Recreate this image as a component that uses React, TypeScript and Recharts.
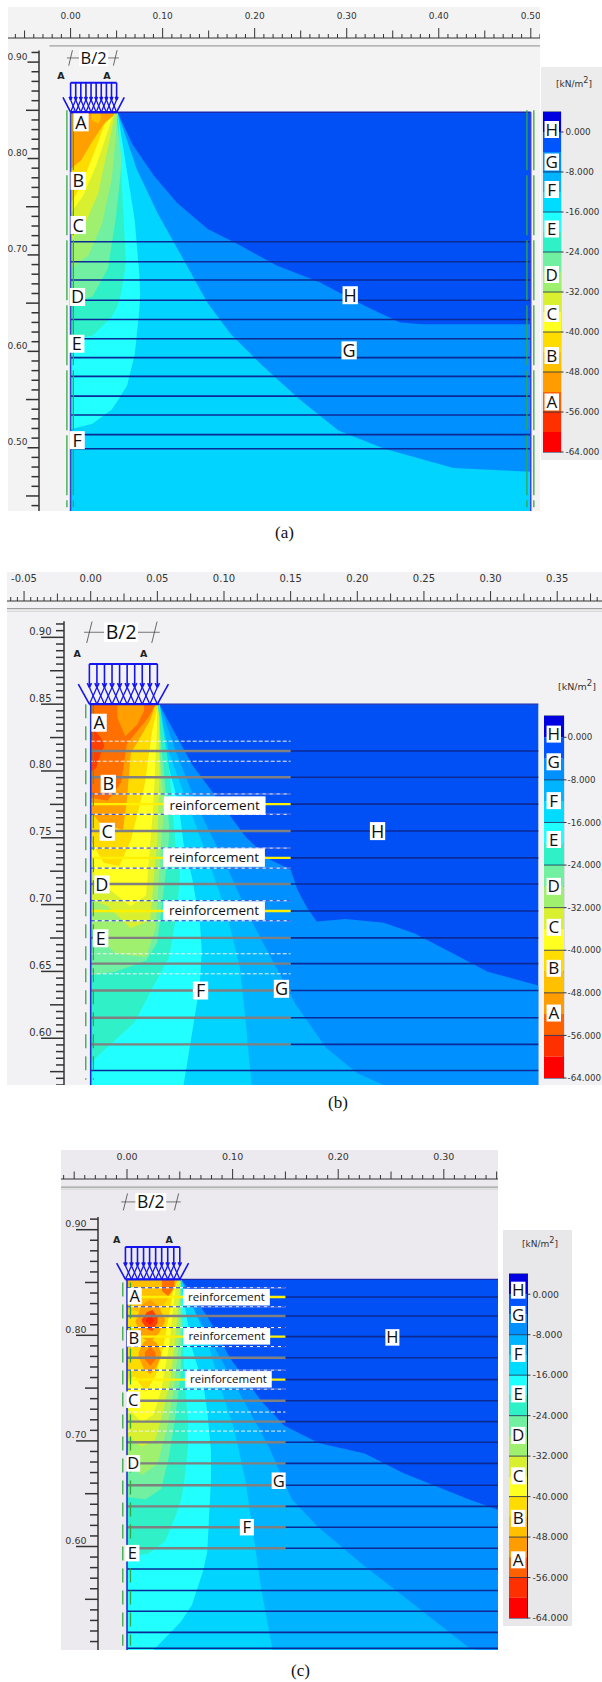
import { Area, Bar, BarChart, ComposedChart, ReferenceArea, ReferenceDot, ReferenceLine, XAxis, YAxis } from 'recharts';

// colour steps of the stress scale, top (0..4) to bottom (-60..-64)
const scaleColors = ['#0000E0', '#0055FF', '#0090FF', '#00B4FF', '#00DCFF', '#20FFFF', '#30F0C8', '#70F0A0', '#A0F070', '#D8F030', '#FFFF20', '#FFDC00', '#FFC000', '#FF9C00', '#FF6000', '#FF3000', '#FF0000'];
const scaleSteps = [4, -4, -4, -4, -4, -4, -4, -4, -4, -4, -4, -4, -4, -4, -4, -4, -4];
const scaleTicks = [0, -8, -16, -24, -32, -40, -48, -56, -64];
const letters = ['H', 'G', 'F', 'E', 'D', 'C', 'B', 'A'];
const scaleLettersA = [0.5, -6, -11.5, -19.4, -28.5, -36.3, -44.7, -54];
const scaleLettersB = [0.6, -4.6, -11.9, -19.2, -28, -35.7, -43.4, -51.8];
const scaleLettersC = [0.8, -4, -11.7, -19.7, -27.9, -35.9, -44.3, -52.5];

const HB = '#0050F5';
const G = '#0090FF';
const F1 = '#00B4FF';
const F2 = '#00D4FF';
const E1 = '#22FFFF';
const E2 = '#30F0C8';
const D1 = '#70F0A0';
const D2 = '#A0F070';
const C1 = '#D8F030';
const C2 = '#FFFF20';
const B1 = '#FFDC00';
const O1 = '#FFC000';
const O2 = '#FFA000';
const O3 = '#FF7000';
const R1 = '#FF4000';
const R2 = '#FF2000';

// panel (a): rows are x, lower y, upper y of each stress band
const aT = 0.848;
const aB = 0.4344;
const aBandH = [[0, aB, aT], [0.5, aB, aT]];
const aBandG = [[0, aB, aT], [0.051, aB, aT], [0.0676, aB, 0.814], [0.0906, aB, 0.782], [0.1156, aB, 0.754], [0.149, aB, 0.727], [0.182, aB, 0.711], [0.224, aB, 0.689], [0.27, aB, 0.672], [0.32, aB, 0.647], [0.358, aB, 0.63], [0.383, aB, 0.628], [0.5, aB, 0.628]];
const aBandF = [[0, aB, aT], [0.051, aB, aT], [0.0718, aB, 0.789], [0.0947, aB, 0.743], [0.124, aB, 0.693], [0.149, aB, 0.65], [0.174, aB, 0.618], [0.2074, aB, 0.586], [0.249, aB, 0.55], [0.291, aB, 0.518], [0.341, aB, 0.499], [0.416, aB, 0.479], [0.5, aB, 0.475]];
const aBandE1 = [[0, 0.5193, aT], [0.0238, 0.525, aT], [0.0447, 0.5396, aT], [0.051, 0.5485, aT], [0.0614, 0.5646, 0.786], [0.0697, 0.5967, 0.736], [0.0747, 0.643, 0.679], [0.0756, 0.66, 0.66]];
const aBandE2 = [[0, 0.6128, aT], [0.0238, 0.6163, aT], [0.0447, 0.636, aT], [0.051, 0.6467, aT], [0.0551, 0.661, 0.786], [0.0593, 0.686, 0.707], [0.06, 0.696, 0.697]];
const aBandD1 = [[0, 0.65, aT], [0.0238, 0.657, aT], [0.0405, 0.686, aT], [0.0488, 0.736, aT], [0.0538, 0.779, 0.814], [0.055, 0.795, 0.8]];
const aBandD2 = [[0, 0.686, aT], [0.0196, 0.7, aT], [0.0342, 0.732, aT], [0.0447, 0.779, aT], [0.0488, 0.82, aT], [0.051, 0.848, aT]];
const aBandC1 = [[0, 0.7145, aT], [0.0175, 0.736, aT], [0.03, 0.764, aT], [0.0426, 0.821, aT], [0.048, 0.846, aT]];
const aBandC2 = [[0, 0.743, aT], [0.0134, 0.761, aT], [0.028, 0.793, aT], [0.0405, 0.8286, aT], [0.047, 0.848, aT]];
const aBandB1 = [[0, 0.7537, aT], [0.0113, 0.7716, aT], [0.0259, 0.807, aT], [0.0384, 0.839, aT], [0.0455, 0.848, aT]];
const aBandO2 = [[0, 0.789, aT], [0.0113, 0.798, aT], [0.0238, 0.818, aT], [0.0363, 0.836, aT], [0.0468, 0.8447, aT], [0.0472, 0.848, aT]];
const aBandO1 = [[0.0225, 0.84, aT], [0.03, 0.836, aT], [0.0325, 0.84, aT]];
const aLevels = [0.7137, 0.693, 0.674, 0.653, 0.633, 0.613, 0.5935, 0.574, 0.5535, 0.534, 0.5136, 0.499];

// panel (b)
const bT = 0.85;
const bB = 0.565;
const bBandH = [[0, bB, bT], [0.3358, bB, bT]];
const bBandG = [[0, bB, bT], [0.0516, bB, 0.8497], [0.076, bB, 0.8049], [0.0962, bB, 0.7777], [0.1164, bB, 0.7505], [0.1336, bB, 0.7341], [0.15, bB, 0.726], [0.1552, bB, 0.711], [0.1624, bB, 0.6974], [0.1696, bB, 0.6874], [0.1912, bB, 0.6893], [0.22, bB, 0.6865], [0.2431, bB, 0.6784], [0.2719, bB, 0.6634], [0.2978, bB, 0.6498], [0.3358, bB, 0.6395]];
const bBandF1 = [[0, bB, bT], [0.0516, bB, bT], [0.0645, bB, 0.813], [0.0818, bB, 0.7695], [0.102, bB, 0.7287], [0.1192, bB, 0.6906], [0.1365, bB, 0.658], [0.1538, bB, 0.6253], [0.1768, bB, 0.5927], [0.2, bB, 0.5737], [0.22, bB, 0.565]];
const bBandF2 = [[0, bB, bT], [0.0516, bB, bT], [0.0588, bB, 0.813], [0.0732, bB, 0.7749], [0.089, bB, 0.7314], [0.102, bB, 0.6933], [0.112, bB, 0.6526], [0.1164, bB, 0.6118], [0.1207, bB, 0.565]];
const bBandE1 = [[0, bB, bT], [0.0516, bB, bT], [0.0559, bB, 0.813], [0.066, bB, 0.7749], [0.0697, bB, 0.7453], [0.076, 0.6036, 0.7205], [0.0818, 0.639, 0.6879], [0.0832, 0.663, 0.668]];
const bBandE2 = [[0, 0.5818, bT], [0.0328, 0.6118, bT], [0.0472, 0.639, bT], [0.0516, 0.6471, bT], [0.0588, 0.6607, 0.8021], [0.0645, 0.6933, 0.7341], [0.0668, 0.718, 0.728]];
const bBandD1 = [[0, 0.6471, bT], [0.0184, 0.6498, bT], [0.0415, 0.658, bT], [0.05, 0.6716, bT], [0.0559, 0.7205, 0.7885], [0.0588, 0.75, 0.76]];
const bBandD2 = [[0, 0.6825, bT], [0.0184, 0.6634, bT], [0.0415, 0.6607, bT], [0.0487, 0.6825, bT], [0.053, 0.7477, 0.7967], [0.055, 0.77, 0.775]];
const bBandC1 = [[0, 0.7042, bT], [0.0127, 0.6988, bT], [0.03, 0.6825, bT], [0.0444, 0.6879, bT], [0.05, 0.7477, bT], [0.0516, 0.8, 0.84]];
const bBandC2 = [[0, 0.726, bT], [0.0127, 0.7124, bT], [0.03, 0.6988, bT], [0.0415, 0.7069, bT], [0.047, 0.775, bT], [0.0497, 0.83, bT]];
const bBandB1 = [[0, 0.7477, bT], [0.0098, 0.7314, bT], [0.0213, 0.7287, bT], [0.03, 0.7477, bT], [0.0403, 0.7885, bT], [0.046, 0.8293, bT], [0.0501, 0.848, bT]];
const bBandO2 = [[0, 0.7695, bT], [0.0069, 0.7613, bT], [0.0242, 0.7559, bT], [0.0271, 0.7777, bT], [0.03, 0.813, bT], [0.0444, 0.8375, bT], [0.0487, 0.85, bT]];
const bBandO3 = [[0, 0.78, bT], [0.0127, 0.7777, bT], [0.0228, 0.7913, bT], [0.0271, 0.82, bT], [0.0432, 0.84, bT], [0.0487, 0.85, bT]];
const bBandPatch = [[0.02, 0.84, bT], [0.0259, 0.826, bT], [0.035, 0.835, bT], [0.04, 0.845, bT]];
const bBandR1 = [[0, 0.7994, 0.8348], [0.004, 0.8021, 0.8293], [0.0075, 0.813, 0.825], [0.01, 0.818, 0.82]];
const bLevelsFull = [0.5759];
const bLevelsGrey = [0.8149, 0.7953, 0.7551, 0.7154, 0.6751, 0.6558, 0.6357, 0.6153, 0.5954];
const bLevelsYellow = [0.7752, 0.735, 0.6952];
const bDashBlue = [0.7828, 0.7676, 0.7423, 0.7273, 0.7029, 0.6879];
const bDashPale = [0.8223, 0.8073, 0.6632, 0.6482];

// panel (c)
const cT = 0.853;
const cB = 0.502;
const cBandH = [[0, cB, cT], [0.3513, cB, cT]];
const cBandG = [[0, cB, cT], [0.0513, cB, cT], [0.076, cB, 0.818], [0.0978, cB, 0.778], [0.1269, cB, 0.738], [0.1487, cB, 0.7147], [0.1815, cB, 0.698], [0.2251, cB, 0.688], [0.2615, cB, 0.6697], [0.2905, cB, 0.658], [0.3233, cB, 0.6447], [0.3513, cB, 0.6347]];
const cBandF1 = [[0, cB, cT], [0.0513, cB, cT], [0.0615, cB, 0.828], [0.0978, cB, 0.7613], [0.1342, cB, 0.6947], [0.156, cB, 0.6447], [0.1815, cB, 0.618], [0.2251, cB, 0.5813], [0.2724, cB, 0.5447], [0.3233, cB, 0.5047], [0.3305, cB, 0.502]];
const cBandF2 = [[0, cB, cT], [0.0513, cB, cT], [0.076, cB, 0.7947], [0.0905, cB, 0.7447], [0.1015, cB, 0.7113], [0.1124, cB, 0.6613], [0.1269, cB, 0.5613], [0.1378, cB, 0.502]];
const cBandE1 = [[0, cB, cT], [0.0251, cB, cT], [0.0505, 0.528, cT], [0.0615, 0.5447, 0.788], [0.0724, 0.578, 0.752], [0.076, 0.595, 0.728], [0.0796, 0.665, 0.69]];
const cBandE2 = [[0, 0.5913, cT], [0.0196, 0.593, cT], [0.036, 0.6047, cT], [0.0469, 0.6313, cT], [0.0513, 0.6447, cT], [0.0542, 0.6613, 0.7613], [0.0578, 0.6947, 0.72]];
const cBandD1 = [[0, 0.6467, cT], [0.0178, 0.6447, cT], [0.0324, 0.6547, cT], [0.0396, 0.6847, cT], [0.0451, 0.718, cT], [0.0505, 0.7613, cT], [0.0524, 0.808, 0.82]];
const cBandD2 = [[0, 0.678, cT], [0.0142, 0.668, cT], [0.0287, 0.678, cT], [0.0378, 0.7113, cT], [0.0451, 0.7547, cT], [0.0505, 0.808, cT]];
const cBandC1 = [[0, 0.7047, cT], [0.0142, 0.6947, cT], [0.0269, 0.7013, cT], [0.0342, 0.728, cT], [0.0415, 0.7613, cT], [0.0469, 0.808, cT], [0.0505, 0.85, cT]];
const cBandC2 = [[0, 0.7313, cT], [0.0142, 0.718, cT], [0.0251, 0.7247, cT], [0.0324, 0.748, cT], [0.0396, 0.788, cT], [0.0451, 0.838, cT], [0.0476, 0.853, cT]];
const cBandB1 = [[0, 0.755, cT], [0.0069, 0.7613, cT], [0.0178, 0.7463, cT], [0.0269, 0.7613, cT], [0.0342, 0.788, cT], [0.0415, 0.828, cT], [0.0451, 0.853, cT]];
const cBandTop = [[0, 0.825, cT], [0.02, 0.82, cT], [0.032, 0.825, cT], [0.0455, 0.845, cT], [0.048, 0.853, cT]];
const cBlobMid = [[0.008, 0.813, 0.813], [0.014, 0.798, 0.829], [0.022, 0.793, 0.834], [0.03, 0.802, 0.827], [0.036, 0.813, 0.815]];
const cBlobLow = [[0.011, 0.78, 0.784], [0.016, 0.768, 0.794], [0.022, 0.763, 0.797], [0.028, 0.77, 0.793], [0.032, 0.78, 0.784]];
const cRedMid = [[0.014, 0.813, 0.815], [0.019, 0.806, 0.822], [0.024, 0.804, 0.824], [0.029, 0.812, 0.817]];
const cRedCore = [[0.018, 0.813, 0.815], [0.022, 0.81, 0.819], [0.025, 0.813, 0.815]];
const cLowDeep = [[0.017, 0.777, 0.784], [0.022, 0.771, 0.789], [0.027, 0.777, 0.784]];
const cTopDeep = [[0.033, 0.842, cT], [0.039, 0.837, cT], [0.045, 0.846, cT]];
const cLevelsFull = [0.5787, 0.5583, 0.5387, 0.5187, 0.5037];
const cLevelsGrey = [0.8183, 0.7787, 0.738, 0.7183, 0.6987, 0.6787, 0.658, 0.638, 0.6183, 0.5983];
const cLevelsYellow = [0.8363, 0.7987, 0.758];
const cDashBlue = [0.845, 0.827, 0.8073, 0.7893, 0.767, 0.749];
const cDashPale = [0.7273, 0.7093];

// letters and notes placed on the plots: [x, y, text]
const aTags: [number, number, string][] = [[0.0113, 0.8375, 'A'], [0.0083, 0.7768, 'B'], [0.0083, 0.731, 'C'], [0.0075, 0.6564, 'D'], [0.0067, 0.6079, 'E'], [0.0071, 0.5079, 'F'], [0.3038, 0.6582, 'H'], [0.3026, 0.601, 'G'], [0.025, 0.9043, 'B/2']];
const bTags: [number, number, string][] = [[0.0063, 0.8361, 'A'], [0.0132, 0.7904, 'B'], [0.0124, 0.7545, 'C'], [0.0084, 0.7151, 'D'], [0.0075, 0.6748, 'E'], [0.0824, 0.6357, 'F'], [0.1431, 0.637, 'G'], [0.2152, 0.755, 'H'], [0.093, 0.7741, 'reinforcement'], [0.0925, 0.7352, 'reinforcement'], [0.0925, 0.6955, 'reinforcement'], [0.0228, 0.9038, 'B/2']];
const cTags: [number, number, string][] = [[0.0073, 0.837, 'A'], [0.0065, 0.797, 'B'], [0.0058, 0.739, 'C'], [0.0058, 0.6787, 'D'], [0.0051, 0.5937, 'E'], [0.1135, 0.6183, 'F'], [0.1436, 0.6623, 'G'], [0.2513, 0.798, 'H'], [0.0942, 0.836, 'reinforcement'], [0.0945, 0.799, 'reinforcement'], [0.096, 0.7583, 'reinforcement'], [0.0225, 0.9263, 'B/2']];

const aLayers: [string, number[][]][] = [[HB, aBandH], [G, aBandG], [F2, aBandF], [E1, aBandE1], [E2, aBandE2], [D1, aBandD1], [D2, aBandD2], [C1, aBandC1], [C2, aBandC2], [B1, aBandB1], [O2, aBandO2], [O1, aBandO1]];
const bLayers: [string, number[][]][] = [[HB, bBandH], [G, bBandG], [F1, bBandF1], [F2, bBandF2], [E1, bBandE1], [E2, bBandE2], [D1, bBandD1], [D2, bBandD2], [C1, bBandC1], [C2, bBandC2], [B1, bBandB1], [O2, bBandO2], [O3, bBandO3], [O2, bBandPatch], [R1, bBandR1]];
const cLayers: [string, number[][]][] = [[HB, cBandH], [G, cBandG], [F1, cBandF1], [F2, cBandF2], [E1, cBandE1], [E2, cBandE2], [D1, cBandD1], [D2, cBandD2], [C1, cBandC1], [C2, cBandC2], [B1, cBandB1], [O1, cBandTop], [O2, cBlobMid], [O2, cBlobLow], [O3, cLowDeep], [O3, cTopDeep], [R1, cRedMid], [R2, cRedCore]];

const tickList = (from: number, to: number, step: number) => {
  const out: number[] = [];
  for (let i = Math.ceil(from / step - 1e-6); i * step <= to + 1e-6; i++) out.push(Math.round(i * step * 10000) / 10000);
  return out;
};
const isStep = (v: number, step: number) => Math.abs(v / step - Math.round(v / step)) < 1e-4;

const seg = (key: string, x1: number, y1: number, x2: number, y2: number, stroke: string, strokeWidth = 1, dash?: string) => (
  <ReferenceLine key={key} ifOverflow="visible" segment={[{ x: x1, y: y1 }, { x: x2, y: y2 }]} stroke={stroke} strokeWidth={strokeWidth} strokeDasharray={dash} />
);

const LOAD = '#1414F0';
// distributed load symbol above the footing
const loadSymbol = (x0: number, x1: number, top: number, bottom: number) => {
  const out = [];
  const n = 10;
  const dx = (x1 - x0) / (n - 1);
  const h = top - bottom;
  const tip = bottom + h * 0.42;
  out.push(seg('lt', x0, top, x1, top, LOAD, 2));
  out.push(seg('lb', x0, bottom, x1 + 0.001, bottom, LOAD, 2.4));
  out.push(seg('dl', x0 - 0.0083, bottom + h * 0.5, x0, bottom, LOAD, 1.6));
  out.push(seg('dr', x1 + 0.0083, bottom + h * 0.5, x1, bottom, LOAD, 1.6));
  for (let i = 0; i < n; i++) {
    const x = x0 + i * dx;
    out.push(seg(`v${i}`, x, top, x, tip, LOAD, 1.6));
    out.push(seg(`hl${i}`, x - dx * 0.28, tip + h * 0.1, x, tip, LOAD, 1.6));
    out.push(seg(`hr${i}`, x + dx * 0.28, tip + h * 0.1, x, tip, LOAD, 1.6));
    if (i > 0) out.push(seg(`xl${i}`, x, tip, x - dx, bottom, LOAD, 1.3));
    if (i < n - 1) out.push(seg(`xr${i}`, x, tip, x + dx, bottom, LOAD, 1.3));
  }
  return out;
};

const Tag = ({ cx, cy, text, fontSize, noteSize, dimSize }: any) => {
  const note = text === 'reinforcement';
  const dim = text === 'B/2';
  const size = note ? noteSize : dim ? dimSize : fontSize;
  const w = note ? text.length * size * 0.58 : dim ? size * 1.59 + 3 : size * 0.85;
  const h = note ? size + 5 : size;
  return (
    <g>
      <rect x={cx - w / 2} y={cy - h / 2} width={w} height={h} fill="#fff" />
      <text x={cx} y={cy + size * 0.36} textAnchor="middle" fontSize={size} fontFamily="'Open Sans', sans-serif" fill="#111">
        {text}
      </text>
    </g>
  );
};

const SmallA = ({ cx, cy }: any) => (
  <text x={cx} y={cy + 3.5} textAnchor="middle" fontSize={9.5} fontWeight="bold" fontFamily="'DejaVu Sans', sans-serif" fill="#222">
    A
  </text>
);

// the depth ruler left of the plot, a chart of its own on the panel's depth scale
function DepthRuler(p: any) {
  const xs = p.xDomain;
  const ys = p.yDomain;
  const axisPx = Math.round(((p.axisX - xs[0]) / (xs[1] - xs[0])) * p.width);
  const yTicks = tickList(ys[0], p.yAxisTop, p.yMinor);
  const yTick = ({ y, payload }: any) => {
    const v = payload.value;
    const major = isStep(v, p.yMajor);
    const mid = isStep(v, p.yMajor / 2);
    const len = major ? p.yTickLens[0] : mid ? p.yTickLens[1] : p.yTickLens[2];
    return (
      <g>
        <line x1={axisPx - len} x2={axisPx} y1={y} y2={y} stroke="#333" strokeWidth={1.5} />
        {major && (
          <text x={axisPx - p.yLabelGap} y={y - 2.5} textAnchor="end" fontSize={p.tickFont} fontFamily="'DejaVu Sans', sans-serif" fill="#333">
            {v.toFixed(2)}
          </text>
        )}
      </g>
    );
  };
  return (
    <div style={{ position: 'absolute', left: p.left, top: p.top, zIndex: 5 }}>
      <ComposedChart width={axisPx + 2} height={p.height} margin={{ top: p.rulerHeight, right: 0, bottom: 0, left: 0 }}>
        <XAxis type="number" dataKey="x" hide domain={[0, 1]} allowDataOverflow />
        <YAxis type="number" width={axisPx} domain={ys} allowDataOverflow ticks={yTicks} interval={0} tick={yTick} tickLine={false} tickSize={0} tickMargin={0} axisLine={false} />
        {seg('axis', 0, ys[0], 0, p.yAxisTop + 0.002, '#333', 1.5)}
      </ComposedChart>
    </div>
  );
}

function StressPanel(p: any) {
  const xs = p.xDomain;
  const ys = p.yDomain;
  const xTicks = tickList(xs[0], xs[1], p.xMinor);

  const xTick = ({ x, y, payload }: any) => {
    const v = payload.value;
    const major = isStep(v, p.xMajor);
    const mid = isStep(v, p.xMajor / 2);
    return (
      <g>
        <line x1={x} x2={x} y1={y} y2={y - (major ? 10 : mid ? 7.5 : 4)} stroke="#333" strokeWidth={1} />
        {major && (
          <text x={x} y={y - 19} textAnchor="middle" fontSize={p.tickFont} fontFamily="'DejaVu Sans', sans-serif" fill="#333">
            {v.toFixed(2)}
          </text>
        )}
      </g>
    );
  };

  return (
    <>
      <div style={{ position: 'absolute', left: p.left, top: p.top, background: p.background }}>
        <ComposedChart width={p.width} height={p.height} margin={{ top: 0, right: 0, bottom: 0, left: 0 }}>
          <XAxis type="number" dataKey="x" orientation="top" height={p.rulerHeight} domain={xs} allowDataOverflow ticks={xTicks} interval={0} tick={xTick} tickLine={false} tickSize={0} tickMargin={0} axisLine={{ stroke: '#333' }} />
          <YAxis type="number" hide domain={ys} allowDataOverflow />
          {p.layers.map(([color, rows]: [string, number[][]], i: number) => (
            <Area key={i} data={rows.map((r) => ({ x: r[0], range: [r[1], r[2]] }))} dataKey="range" type="linear" fill={color} fillOpacity={1} stroke="none" isAnimationActive={false} dot={false} activeDot={false} />
          ))}
          {p.greyY.map((y: number, i: number) => seg(`gr${i}`, p.greyFrom, y, xs[1], y, '#A0A0A0', 1.2))}
          {p.greyY2.map((y: number, i: number) => seg(`gs${i}`, p.greyFrom, y, xs[1], y, '#D0D0D0', 1))}
          {p.levelsFull.map((y: number, i: number) => seg(`f${i}`, 0, y, p.right, y, '#0C2A96', 1.6))}
          {p.levelsGrey.map((y: number, i: number) => seg(`g${i}`, 0.15, y, p.right, y, '#0C2A96', 1.6))}
          {p.levelsGrey.map((y: number, i: number) => seg(`h${i}`, 0, y, 0.15, y, '#808080', 2.4))}
          {p.levelsYellow.map((y: number, i: number) => seg(`j${i}`, 0.15, y, p.right, y, '#0C2A96', 1.6))}
          {p.levelsYellow.map((y: number, i: number) => seg(`y${i}`, 0, y, 0.15, y, '#FFF000', 2.4))}
          {p.dashBlue.map((y: number, i: number) => seg(`b0${i}`, 0, y, 0.15, y, '#FFFFFF', 1))}
          {p.dashBlue.map((y: number, i: number) => seg(`b1${i}`, 0, y, 0.15, y, '#1030D0', 1, '4 3'))}
          {p.dashPale.map((y: number, i: number) => seg(`p${i}`, 0, y, 0.15, y, '#F0F0F0', 1, '4 2'))}
          {seg('top', 0, p.yTop, p.right, p.yTop, '#1A2AB0', 1.4)}
          {seg('left', 0, p.yTop, 0, ys[0], p.edge, 1.6)}
          {p.hasRightEdge && seg('right', p.right, p.yTop, p.right, ys[0], '#3A40D0', 1.4)}
          {p.greenX.map((x: number, i: number) => seg(`gn${i}`, x, p.greenTop, x, ys[0] + 0.004, '#33A845', 1.3, p.greenDash))}
          {loadSymbol(p.loadFrom, p.loadTo, p.loadTop, p.yTop)}
          {seg('d0', p.loadFrom - 0.004, p.dimY, p.dimTo - 0.012, p.dimY, '#555', 0.8)}
          {seg('d1', p.loadFrom + 0.036, p.dimY, p.dimTo + 0.004, p.dimY, '#555', 0.8)}
          {seg('d2', p.loadFrom - 0.002, p.dimY - 0.008, p.loadFrom + 0.002, p.dimY + 0.008, '#444', 0.8)}
          {seg('d3', p.dimTo - 0.002, p.dimY - 0.008, p.dimTo + 0.002, p.dimY + 0.008, '#444', 0.8)}
          {p.smallA.map((x: number, i: number) => (
            <ReferenceDot key={`a${i}`} x={x} y={p.smallAY} r={1} shape={SmallA} ifOverflow="visible" />
          ))}
          {p.tags.map((t: [number, number, string], i: number) => (
            <ReferenceDot key={`t${i}`} x={t[0]} y={t[1]} r={1} ifOverflow="visible" shape={(s: any) => <Tag cx={s.cx} cy={s.cy} text={t[2]} fontSize={p.tagFont} noteSize={p.noteFont} dimSize={p.dimFont} />} />
          ))}
        </ComposedChart>
      </div>
      <DepthRuler {...p} />
    </>
  );
}

const scaleRow = [{ name: 'scale', ...Object.fromEntries(scaleSteps.map((v, i) => [`s${i}`, v])) }];

function ScaleBar({ left, top, barWidth, width, height, fontSize, tickMargin, tagValues }: any) {
  const pad = 8;
  return (
    <div style={{ position: 'absolute', left, top: top - pad }}>
      <BarChart width={width} height={height + pad * 2} data={scaleRow} barCategoryGap={0} stackOffset="sign" margin={{ top: pad, right: 0, bottom: pad, left: 0 }}>
        <XAxis dataKey="name" hide />
        <YAxis orientation="right" width={width - barWidth} type="number" domain={[-64, 4]} ticks={scaleTicks} interval={0} tickFormatter={(v: number) => v.toFixed(3)} axisLine={false} tickSize={3} tickMargin={tickMargin} tick={{ fontSize, fontFamily: "'DejaVu Sans', sans-serif", fill: '#333' }} stroke="#333" />
        {scaleSteps.map((_, i) => (
          <Bar key={i} dataKey={`s${i}`} stackId="scale" fill={scaleColors[i]} isAnimationActive={false} />
        ))}
        {scaleTicks.slice(1, -1).map((v) => (
          <ReferenceLine key={v} y={v} stroke="#1a2a50" strokeWidth={0.8} />
        ))}
        <ReferenceArea y1={-64} y2={4} fill="none" stroke="#12205a" strokeWidth={1.2} ifOverflow="visible" />
        {letters.map((l, i) => (
          <ReferenceDot key={l} x="scale" y={tagValues[i]} r={1} ifOverflow="visible" shape={(s: any) => <Tag cx={s.cx} cy={s.cy} text={l} fontSize={17} noteSize={12} dimSize={16} />} />
        ))}
      </BarChart>
    </div>
  );
}

const Unit = ({ left, top, size }: any) => (
  <div style={{ position: 'absolute', left, top, fontSize: size, fontFamily: "'DejaVu Sans', sans-serif", color: '#333', whiteSpace: 'nowrap', lineHeight: 1 }}>
    [kN/m<sup style={{ fontSize: size * 0.9, lineHeight: 0 }}>2</sup>]
  </div>
);

const Caption = ({ left, top, text }: any) => (
  <div style={{ position: 'absolute', left, top, fontSize: 17, fontFamily: "'Liberation Serif', serif", color: '#111', lineHeight: 1 }}>{text}</div>
);

export default function App() {
  return (
    <div style={{ position: 'absolute', left: 0, top: 0, width: 602, height: 1682, background: '#fff', overflow: 'hidden' }}>
      <StressPanel left={8} top={7} width={532} height={504} rulerHeight={31} background="#F3F3F3"
        xDomain={[-0.068, 0.51]} yDomain={[0.4344, 0.925]} xMajor={0.1} xMinor={0.01} yMajor={0.1} yMinor={0.01}
        axisX={-0.0338} yAxisTop={0.91} yTickLens={[11.5, 13, 7.5]} yLabelGap={11.5} tickFont={9}
        layers={aLayers} right={0.5} yTop={aT} edge="#3A40D0" hasRightEdge
        levelsFull={aLevels} levelsGrey={[]} levelsYellow={[]} dashBlue={[]} dashPale={[]}
        greyY={[0.9168]} greyY2={[]} greyFrom={-0.023}
        greenX={[-0.004, 0.003, 0.4958, 0.5033]} greenTop={0.85} greenDash="60 5"
        loadFrom={0} loadTo={0.05} loadTop={0.8786} dimY={0.9043} dimTo={0.0485}
        smallA={[-0.0104, 0.0396]} smallAY={0.8857} tags={aTags} tagFont={18} noteFont={12} dimFont={16.5} />
      <div style={{ position: 'absolute', left: 541, top: 67, width: 61, height: 393, background: '#ECECEC' }} />
      <Unit left={556} top={80} size={9} />
      <ScaleBar left={543} top={112} barWidth={17.5} width={59} height={340} fontSize={8.8} tickMargin={2} tagValues={scaleLettersA} />
      <Caption left={275} top={524} text="(a)" />

      <StressPanel left={7} top={572} width={595} height={513} rulerHeight={29} background="#F2F2F4"
        xDomain={[-0.0628, 0.3836]} yDomain={[0.565, 0.9272]} xMajor={0.05} xMinor={0.005} yMajor={0.05} yMinor={0.005}
        axisX={-0.0204} yAxisTop={0.91} yTickLens={[23, 14, 8]} yLabelGap={12.5} tickFont={10}
        layers={bLayers} right={0.3358} yTop={bT} edge="#2030D0" hasRightEdge={false}
        levelsFull={bLevelsFull} levelsGrey={bLevelsGrey} levelsYellow={bLevelsYellow} dashBlue={bDashBlue} dashPale={bDashPale}
        greyY={[0.9215]} greyY2={[0.9195]} greyFrom={-0.0628}
        greenX={[-0.0037, 0.002]} greenTop={0.85} greenDash="14 8"
        loadFrom={-0.001} loadTo={0.05} loadTop={0.8801} dimY={0.9038} dimTo={0.0478}
        smallA={[-0.0101, 0.0397]} smallAY={0.8878} tags={bTags} tagFont={18} noteFont={13.5} dimFont={19.5} />
      <Unit left={558} top={682} size={9.5} />
      <ScaleBar left={544} top={716} barWidth={19.5} width={58} height={362} fontSize={8.7} tickMargin={1} tagValues={scaleLettersB} />
      <Caption left={328} top={1094} text="(b)" />

      <StressPanel left={61} top={1150} width={437} height={500} rulerHeight={29} background="#ECEAEE"
        xDomain={[-0.0625, 0.3513]} yDomain={[0.502, 0.948]} xMajor={0.1} xMinor={0.01} yMajor={0.1} yMinor={0.01}
        axisX={-0.0276} yAxisTop={0.91} yTickLens={[22, 13, 8]} yLabelGap={11.5} tickFont={9.5}
        layers={cLayers} right={0.3513} yTop={cT} edge="#2030D0" hasRightEdge={false}
        levelsFull={cLevelsFull} levelsGrey={cLevelsGrey} levelsYellow={cLevelsYellow} dashBlue={cDashBlue} dashPale={cDashPale}
        greyY={[0.9403]} greyY2={[0.9385]} greyFrom={-0.0625}
        greenX={[-0.004, 0.0033]} greenTop={0.85} greenDash="14 8"
        loadFrom={-0.0015} loadTo={0.05} loadTop={0.8837} dimY={0.9263} dimTo={0.0469}
        smallA={[-0.0098, 0.04]} smallAY={0.891} tags={cTags} tagFont={16.5} noteFont={11.5} dimFont={17.5} />
      <div style={{ position: 'absolute', left: 503, top: 1230, width: 69, height: 396, background: '#E8E8EA' }} />
      <Unit left={522} top={1240} size={9} />
      <ScaleBar left={508.6} top={1273.6} barWidth={18.4} width={62} height={344} fontSize={9.3} tickMargin={2} tagValues={scaleLettersC} />
      <Caption left={291} top={1662} text="(c)" />
    </div>
  );
}
